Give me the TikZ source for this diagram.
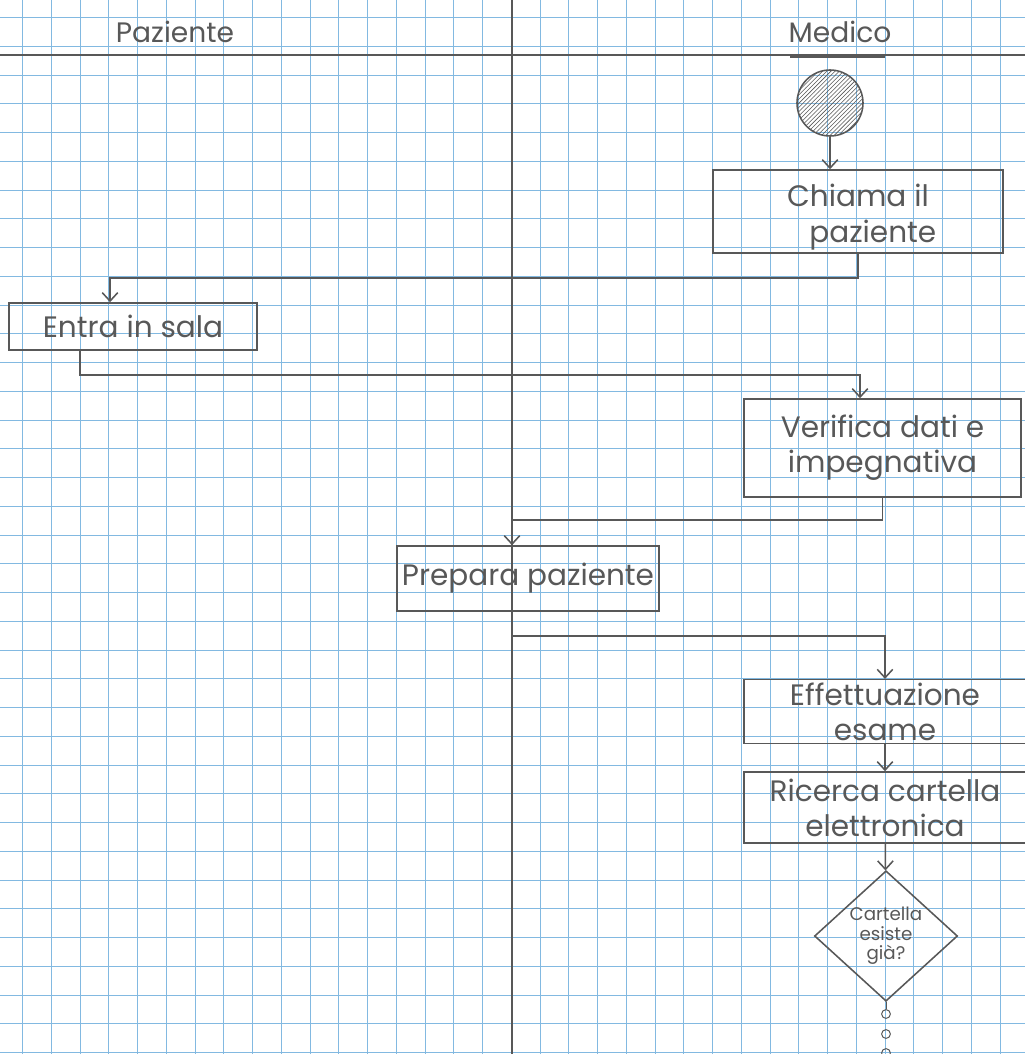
\documentclass[tikz,border=0pt]{standalone}
\usepackage{fontspec}
\setmainfont{Poppins}
\usepackage{xcolor}
\usepackage{tikz}
\usetikzlibrary{shapes,shapes.geometric,arrows,arrows.meta,positioning,patterns,calc}

\definecolor{pencil}{RGB}{88,88,88}
\definecolor{gridblue}{RGB}{130,185,225}

\begin{document}
\begin{tikzpicture}[x=0.025cm,y=-0.025cm,
  gridline/.style={draw=gridblue,line width=0.6pt},
  pencil line/.style={draw=pencil,line width=1.1pt},
  flow/.style={pencil line,-{Straight Barb[length=6pt,width=11pt]}},
  action/.style={pencil line,rectangle,inner sep=2pt,align=center,text=pencil,
    font=\fontsize{21}{25}\selectfont},
  decision/.style={pencil line,diamond,inner sep=0pt,align=center,text=pencil,
    font=\fontsize{13}{14}\selectfont},
  lane/.style={text=pencil,font=\fontsize{20}{24}\selectfont}]
\useasboundingbox (0,0) rectangle (1025,1054);
\clip (0,0) rectangle (1025,1054);
\fill[white] (0,0) rectangle (1025,1054);

\foreach \i in {-1,...,35} \draw[gridline] (22.5+\i*28.75,0) -- (22.5+\i*28.75,1054);
\foreach \j in {0,...,36} \draw[gridline] (0,17.5+\j*28.75) -- (1025,17.5+\j*28.75);

\draw[pencil line] (512,0) -- (512,1054);
\draw[pencil line] (0,55) -- (1025,55);
\draw[draw=pencil,line width=2.2pt] (790,56) -- (885,56);

\node[lane] (paziente) at (175,32) {Paziente};
\node[lane] (medico) at (840,32) {Medico};

\node[pencil line,circle,minimum size=1.65cm,inner sep=0pt,pattern=north east lines,pattern color=pencil] (start) at (830,103) {};

\node[action,minimum width=7.25cm,minimum height=2.075cm] (chiama) at (858,211.5) {\rule{0pt}{24pt}Chiama il\\\quad paziente};
\node[action,minimum width=6.2cm,minimum height=1.175cm] (entra) at (133,326.5) {Entra in sala};
\node[action,minimum width=6.925cm,minimum height=2.45cm] (verifica) at (882.5,448) {Verifica dati e\\impegnativa};
\node[action,minimum width=6.55cm,minimum height=1.625cm] (prepara) at (528,578.5) {Prepara paziente};
\node[action,minimum width=7.05cm,minimum height=1.475cm] (effettua) at (885,711.5) {Effettuazione\\esame};
\node[action,minimum width=7.05cm,minimum height=1.775cm] (ricerca) at (885,807.5) {Ricerca cartella\\elettronica};
\node[decision,minimum width=3.575cm,minimum height=2.8cm] (esiste) at (886,936) {Cartella\\esiste\\già?};

\node[pencil line,circle,minimum size=0.22cm,inner sep=0pt,line width=0.7pt] (c1) at (886,1014) {};
\node[pencil line,circle,minimum size=0.22cm,inner sep=0pt,line width=0.7pt] (c2) at (886,1034) {};
\node[pencil line,circle,minimum size=0.22cm,inner sep=0pt,line width=0.7pt] (c3) at (886,1053) {};

\coordinate (e1) at (110,278);
\coordinate (e2) at (80,350);
\coordinate (v1) at (860,375);
\coordinate (p1) at (512,520);
\coordinate (p2) at (512,611);
\coordinate (f1) at (885,636);

\draw[flow] (start) -- (start |- chiama.north);
\draw[flow] (chiama.south) |- (e1) -- (e1 |- entra.north);
\draw[flow] (e2) |- (v1) -- (v1 |- verifica.north);
\draw[flow] (verifica.south) |- (p1) -- (p1 |- prepara.north);
\draw[flow] (p2) |- (f1) -- (f1 |- effettua.north);
\draw[flow] (effettua) -- (ricerca);
\draw[flow] (ricerca) -- (esiste);
\draw[draw=pencil,line width=0.6pt] (esiste.south) -- (c1.north);
\end{tikzpicture}
\end{document}
